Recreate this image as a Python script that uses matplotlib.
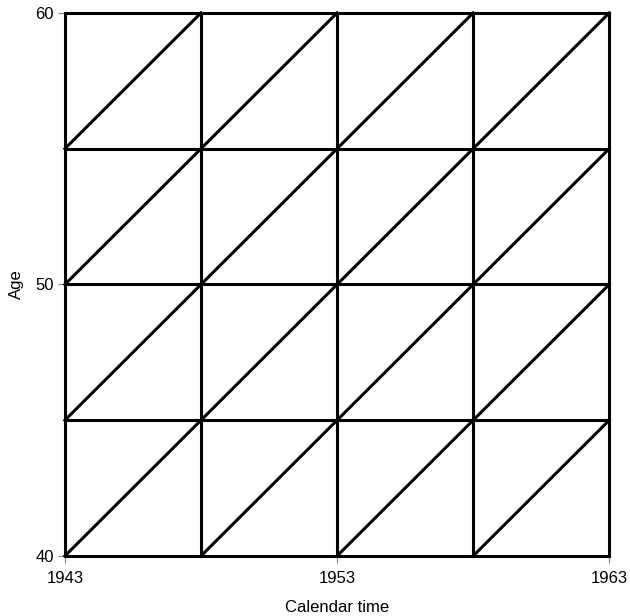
import matplotlib
matplotlib.use("Agg")
import matplotlib.pyplot as plt

plt.rcParams['font.family'] = ['Liberation Sans', 'DejaVu Sans']

years = [1943, 1948, 1953, 1958, 1963]
ages = [40, 45, 50, 55, 60]
xticks = [1943, 1953, 1963]
yticks = [40, 50, 60]

fig = plt.figure(figsize=(6.3, 6.16), dpi=100)
ax = fig.add_axes([0.103, 0.0974, 0.864, 0.8816])
lw = 2.2
kw = dict(color='black', lw=lw, solid_capstyle='projecting', clip_on=False)
for x in years:
    ax.plot([x, x], [ages[0], ages[-1]], **kw)
for y in ages:
    ax.plot([years[0], years[-1]], [y, y], **kw)
for i in range(len(years) - 1):
    for j in range(len(ages) - 1):
        ax.plot([years[i], years[i + 1]], [ages[j], ages[j + 1]], color='black', lw=lw, clip_on=False)

ax.set_xlim(years[0], years[-1])
ax.set_ylim(ages[0], ages[-1])
for s in ax.spines.values():
    s.set_visible(False)
ax.set_xticks(xticks)
ax.set_yticks(yticks)
ax.tick_params(length=5, width=0.8, color='gray', labelsize=12, pad=3)
ax.tick_params(axis='x', pad=6)
ax.set_xlabel('Calendar time', fontsize=12, labelpad=10)
ax.set_ylabel('Age', fontsize=12, labelpad=8)
fig.savefig('out.png', dpi=100)
